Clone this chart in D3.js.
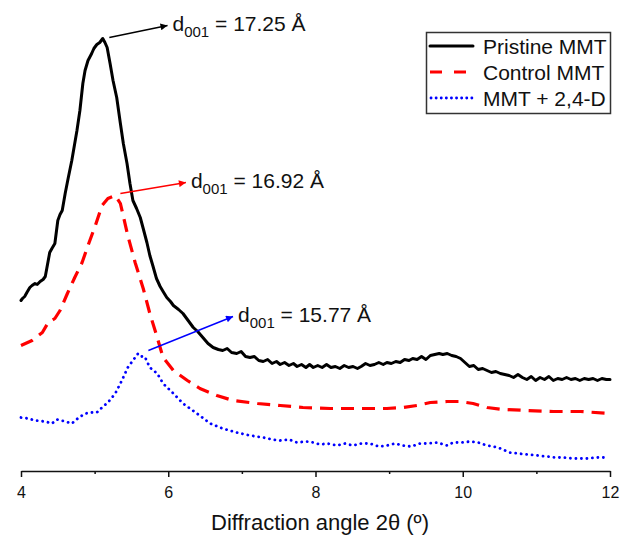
<!DOCTYPE html>
<html>
<head>
<meta charset="utf-8">
<script src="https://cdn.jsdelivr.net/npm/d3@7/dist/d3.min.js"></script>
<style>
  html, body { margin: 0; padding: 0; background: #fff; }
  svg { display: block; font-family: Arial, "Liberation Sans", Helvetica, sans-serif; }
</style>
</head>
<body>
<svg id="chart" width="629" height="535"></svg>
<script>
// ---- Data (2θ in degrees, intensity in arbitrary units, curves stacked/offset) ----
const pristineX = [4.00,4.02,4.05,4.08,4.12,4.15,4.19,4.22,4.26,4.30,4.33,4.35,4.39,4.42,4.46,4.50,4.53,4.56,4.60,4.64,4.69,4.76,4.80,4.84,4.87,4.91,4.96,4.99,5.03,5.07,5.09,5.11,5.14,5.17,5.21,5.25,5.30,5.35,5.39,5.44,5.48,5.52,5.57,5.62,5.66,5.71,5.75,5.79,5.84,5.89,5.93,5.98,6.03,6.07,6.14,6.20,6.27,6.34,6.40,6.47,6.54,6.61,6.68,6.74,6.80,6.86,6.93,6.99,7.05,7.11,7.17,7.23,7.29,7.35,7.41,7.47,7.52,7.58,7.64,7.70,7.75,7.81,7.87,7.92,7.97,8.03,8.09,8.15,8.21,8.27,8.33,8.39,8.45,8.51,8.57,8.62,8.68,8.74,8.80,8.86,8.92,8.97,9.03,9.09,9.15,9.21,9.27,9.32,9.38,9.44,9.50,9.56,9.62,9.68,9.73,9.79,9.85,9.91,9.97,10.03,10.09,10.15,10.21,10.27,10.33,10.39,10.45,10.51,10.57,10.63,10.69,10.75,10.81,10.87,10.93,10.99,11.05,11.11,11.17,11.23,11.29,11.35,11.41,11.47,11.53,11.59,11.65,11.71,11.77,11.83,11.89,11.95,12.00];
const pristineY = [170,172,174,178,183,185,187,186,189,191,194,202,218,222,227,250,256,260,277,292,310,340,360,387,400,410,417,422,426,428,430,432,428,423,407,390,373,347,327,307,287,270,262,253,242,228,215,205,192,184,179,173,169,165,161,157,150,143,139,133,127,123,121,120,122,118,117,119,114,113,114,110,109,111,107,109,106,108,105,107,104,106,103,106,103,105,103,106,103,104,102,105,103,104,102,104,107,105,106,108,106,108,107,109,108,111,110,112,111,114,111,115,116,117,116,117,115,114,112,108,104,105,101,102,100,98,99,97,96,95,93,96,93,91,94,90,93,91,94,90,92,91,93,91,92,90,92,91,92,90,92,91,91];

const controlX = [4.00,4.15,4.29,4.37,4.46,4.53,4.63,4.73,4.83,4.91,5.01,5.10,5.18,5.28,5.35,5.45,5.55,5.66,5.75,5.85,5.93,6.07,6.26,6.43,6.66,6.88,7.21,7.52,7.83,8.20,8.51,8.97,9.19,9.38,9.56,9.79,9.96,10.14,10.33,10.55,10.88,11.23,11.60,12.00];
const controlY = [125,130,138,148,152,160,177,193,208,225,245,265,272,275,267,235,208,182,157,133,113,100,90,82,75,70,67,65,63,62,62,62,63,65,68,69,69,67,63,61,60,59,59,57];

const mmtDX = [4.00,4.10,4.19,4.33,4.42,4.49,4.60,4.69,4.77,4.87,4.96,5.03,5.10,5.18,5.28,5.37,5.45,5.55,5.59,5.64,5.68,5.75,5.85,5.93,6.07,6.20,6.39,6.57,6.74,6.93,7.11,7.29,7.41,7.52,7.64,7.75,7.87,7.97,8.06,8.16,8.29,8.40,8.51,8.62,8.74,8.86,8.97,9.08,9.19,9.30,9.42,9.53,9.65,9.79,9.87,9.98,10.10,10.21,10.33,10.42,10.51,10.64,10.76,10.88,11.02,11.15,11.25,11.36,11.50,11.69,11.82,11.96];
const mmtDY = [53,52,50,49,47,51,49,47,52,57,58,58,63,68,77,90,103,113,117,114,114,103,97,87,77,67,57,47,42,38,35,33,31,30,31,28,29,28,26,27,25,27,25,27,27,24,25,27,25,24,27,27,28,25,28,28,29,28,25,24,22,18,17,16,15,14,13,13,12,12,13,13];

const xTicks = [4, 6, 8, 10, 12];
const xMinorTicks = [5, 7, 9, 11];
const seriesNames = ["Pristine MMT", "Control MMT", "MMT + 2,4-D"];
const seriesColors = ["#000000", "#ff0000", "#0000ff"];
const annotations = [
  {text: "16.92 Å", color: "#ff0000", fromX: 5.35, fromY: 277, toX: 6.24, toY: 288},
  {text: "17.25 Å", color: "#000000", fromX: 5.20, fromY: 433, toX: 5.99, toY: 445},
  {text: "15.77 Å", color: "#0000ff", fromX: 5.73, fromY: 120, toX: 6.88, toY: 154}
];
const xLabel = "Diffraction angle 2θ (º)";

// ---- Chart ----
const svg = d3.select("#chart");
const x = d3.scaleLinear().domain([4, 12]).range([21, 610]);
const y = d3.scaleLinear().domain([0, 440]).range([470.5, 30.5]);

const defs = svg.append("defs");
seriesColors.forEach((c, i) => {
  defs.append("marker")
    .attr("id", "arrow" + i)
    .attr("viewBox", "0 0 10 10")
    .attr("refX", 10).attr("refY", 5)
    .attr("markerWidth", 10).attr("markerHeight", 7)
    .attr("markerUnits", "userSpaceOnUse")
    .attr("orient", "auto")
    .append("path").attr("d", "M0,0 L10,5 L0,10 Z").attr("fill", c);
});

// axis
const axis = d3.axisBottom(x).tickValues(xTicks).tickSize(6).tickSizeOuter(0).tickPadding(10).tickFormat(d3.format("d"));
const gx = svg.append("g").attr("transform", "translate(0,471)").call(axis);
gx.select(".domain").attr("stroke", "#111").attr("stroke-width", 1.5);
gx.selectAll(".tick line").attr("stroke", "#111").attr("stroke-width", 1.5);
gx.selectAll(".tick text").attr("font-size", 16).attr("fill", "#111")
  .attr("font-family", "Arial, 'Liberation Sans', sans-serif");
const minor = d3.axisBottom(x).tickValues(xMinorTicks).tickSize(3).tickSizeOuter(0).tickFormat("");
const gm = svg.append("g").attr("transform", "translate(0,471)").call(minor);
gm.select(".domain").remove();
gm.selectAll(".tick line").attr("stroke", "#111").attr("stroke-width", 1.5);

svg.append("text").attr("x", 320).attr("y", 530).attr("text-anchor", "middle")
  .attr("font-size", 22).attr("fill", "#111").text(xLabel);

// curves
const line = d3.line().x(d => x(d[0])).y(d => y(d[1]));
const seriesData = [
  d3.zip(pristineX, pristineY),
  d3.zip(controlX, controlY),
  d3.zip(mmtDX, mmtDY)
];
const styles = [
  {w: 3, dash: null, cap: "round"},
  {w: 3.2, dash: "13,8", cap: "butt"},
  {w: 2.8, dash: "0.1,5.4", cap: "round"}
];
seriesData.forEach((data, i) => {
  svg.append("path").datum(data)
    .attr("fill", "none")
    .attr("stroke", seriesColors[i])
    .attr("stroke-width", styles[i].w)
    .attr("stroke-linejoin", "round")
    .attr("stroke-linecap", styles[i].cap)
    .attr("stroke-dasharray", styles[i].dash)
    .attr("d", line);
});

// annotations
annotations.forEach(a => {
  const idx = seriesColors.indexOf(a.color);
  svg.append("line")
    .attr("x1", x(a.fromX)).attr("y1", y(a.fromY))
    .attr("x2", x(a.toX)).attr("y2", y(a.toY))
    .attr("stroke", a.color).attr("stroke-width", 1.4)
    .attr("marker-end", "url(#arrow" + idx + ")");
  const t = svg.append("text")
    .attr("x", x(a.toX) + 5).attr("y", y(a.toY) + 5)
    .attr("font-size", 21).attr("fill", "#111");
  t.append("tspan").text("d");
  t.append("tspan").attr("font-size", 15).attr("dy", 6).text("001");
  t.append("tspan").attr("dy", -6).text(" = " + a.text);
});

// legend
const lg = svg.append("g");
lg.append("rect").attr("x", 426.5).attr("y", 32.5).attr("width", 184).attr("height", 81)
  .attr("fill", "#fff").attr("stroke", "#333").attr("stroke-width", 1.5);
seriesNames.forEach((n, i) => {
  const yy = 46 + i * 26;
  lg.append("line").attr("x1", i === 2 ? 431 : 430).attr("x2", 473).attr("y1", yy).attr("y2", yy)
    .attr("stroke", seriesColors[i]).attr("stroke-width", styles[i].w)
    .attr("stroke-linecap", styles[i].cap)
    .attr("stroke-dasharray", i === 1 ? "12,12" : (i === 2 ? "0.1,5" : null));
  lg.append("text").attr("x", 483).attr("y", yy + 7.5).attr("font-size", 21).attr("fill", "#111").text(n);
});
</script>
</body>
</html>
